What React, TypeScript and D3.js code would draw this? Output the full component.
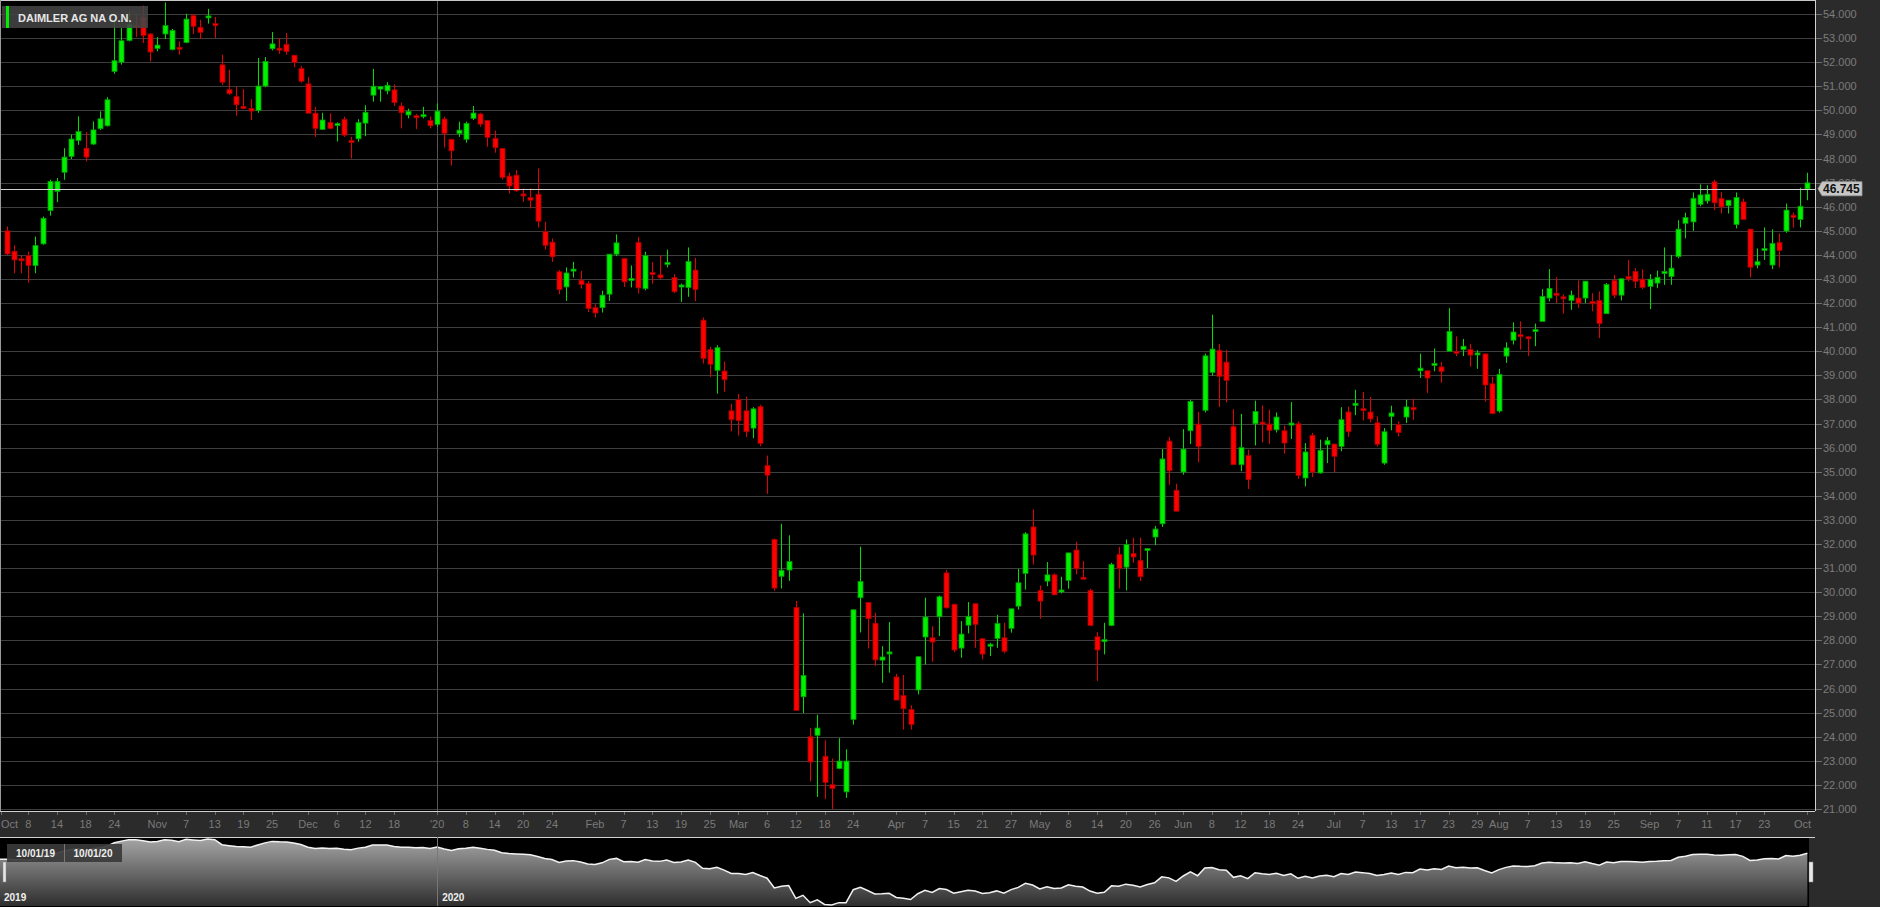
import React from 'react';
import * as d3 from 'd3';

const TITLE = 'DAIMLER AG NA O.N.';
const LAST_PRICE = 46.745;
const RANGE_FROM = '10/01/19';
const RANGE_TO = '10/01/20';

const HOLIDAYS = ['2019-12-24', '2019-12-25', '2019-12-26', '2019-12-31', '2020-01-01', '2020-04-10', '2020-04-13', '2020-05-01', '2020-06-01'];

const OPEN = [
  45.0, 44.15, 43.84, 43.97, 43.56, 44.46, 45.84, 46.63, 47.43, 48.09,
  48.75, 48.43, 48.6, 49.24, 49.36, 51.62, 52.0, 52.9, 53.53, 53.86,
  53.17, 52.57, 53.17, 52.52, 52.62, 52.82, 53.93, 53.45, 53.85, 53.6,
  51.89, 50.86, 50.57, 50.16, 50.08, 49.99, 51.01, 52.56, 52.58, 52.74,
  52.29, 51.74, 51.1, 49.88, 49.21, 49.5, 49.41, 49.63, 48.75, 48.82,
  49.47, 50.63, 50.88, 50.81, 50.85, 50.18, 49.81, 49.78, 49.79, 49.58,
  49.42, 49.64, 48.8, 49.04, 48.8, 49.67, 49.85, 49.58, 48.84, 48.42,
  47.27, 47.31, 46.53, 46.38, 46.52, 44.97, 44.53, 43.3, 42.67, 43.37,
  42.95, 42.81, 41.81, 41.81, 42.37, 44.03, 43.85, 42.97, 44.52, 42.6,
  43.27, 43.17, 43.65, 43.06, 42.7, 42.65, 43.37, 41.29, 40.07, 39.21,
  39.18, 37.53, 37.99, 37.53, 36.81, 37.7, 35.26, 32.19, 30.66, 30.92,
  29.37, 25.66, 24.0, 24.06, 23.19, 22.01, 22.68, 21.71, 24.72, 29.77,
  29.57, 28.71, 27.18, 27.48, 26.48, 25.71, 25.13, 25.94, 28.14, 28.11,
  28.98, 30.8, 29.5, 27.68, 28.63, 29.52, 28.07, 27.79, 28.08, 28.11,
  28.5, 29.42, 30.78, 32.71, 30.07, 30.46, 30.72, 30.06, 30.49, 31.75,
  30.62, 30.07, 28.15, 28.0, 28.62, 31.57, 31.04, 31.61, 31.32, 31.78,
  32.29, 32.84, 36.27, 34.23, 34.99, 36.7, 36.98, 37.55, 39.12, 40.04,
  39.55, 36.88, 35.29, 35.67, 36.99, 37.06, 36.98, 36.74, 36.7, 36.98,
  36.99, 34.74, 36.51, 34.95, 36.12, 36.15, 36.05, 37.48, 37.8, 37.62,
  37.48, 37.03, 35.36, 37.3, 36.95, 37.27, 37.67, 39.19, 39.19, 39.46,
  39.35, 40.0, 40.0, 40.07, 40.07, 39.92, 39.89, 38.65, 37.52, 39.8,
  40.46, 40.69, 40.6, 40.88, 41.24, 42.21, 42.41, 42.26, 42.11, 42.21,
  42.21, 42.07, 42.11, 41.56, 42.94, 42.33, 43.1, 43.31, 42.99, 42.69,
  42.83, 43.29, 43.1, 43.93, 45.31, 45.37, 46.1, 46.24, 47.03, 46.34,
  46.04, 45.26, 46.2, 45.07, 43.58, 44.25, 43.58, 44.51, 44.99, 45.65,
  45.47, 46.74,
];

const HIGH = [
  45.18, 44.4, 43.96, 44.14, 44.76, 45.59, 47.12, 47.19, 48.43, 48.99,
  49.75, 49.1, 49.54, 49.96, 50.55, 53.7, 53.42, 54.1, 53.97, 54.35,
  53.21, 53.04, 54.48, 53.38, 52.86, 54.01, 54.01, 53.76, 54.21, 53.88,
  52.31, 51.69, 50.97, 50.88, 50.46, 52.17, 52.21, 53.25, 53.0, 53.21,
  52.29, 51.85, 51.38, 50.15, 49.9, 49.88, 49.5, 49.74, 48.9, 49.63,
  50.21, 51.72, 51.0, 51.17, 51.08, 50.32, 50.07, 49.85, 50.15, 49.74,
  50.29, 49.74, 48.8, 49.53, 49.53, 50.18, 49.9, 49.58, 49.16, 48.42,
  47.41, 47.52, 46.76, 46.76, 47.59, 45.37, 44.68, 43.37, 43.48, 43.71,
  43.34, 42.91, 41.95, 42.51, 44.03, 44.85, 43.85, 43.56, 44.75, 44.13,
  43.7, 43.97, 44.22, 43.2, 42.81, 44.31, 43.88, 41.4, 40.18, 40.25,
  39.57, 37.82, 38.23, 38.12, 37.68, 37.78, 35.67, 32.23, 32.84, 32.36,
  29.64, 29.12, 24.36, 24.91, 23.85, 23.09, 23.94, 23.48, 29.27, 31.89,
  29.57, 29.15, 27.76, 28.76, 26.61, 26.56, 25.3, 27.32, 29.77, 28.59,
  29.86, 30.92, 29.5, 28.8, 29.59, 29.52, 28.07, 27.9, 29.06, 28.73,
  29.31, 30.97, 32.49, 33.43, 30.28, 31.25, 30.78, 30.64, 31.63, 32.09,
  31.29, 30.14, 28.34, 28.73, 31.22, 31.88, 32.19, 32.26, 32.26, 31.81,
  32.75, 35.94, 36.44, 34.5, 36.77, 37.99, 37.48, 39.9, 41.52, 40.3,
  40.06, 37.6, 37.4, 35.91, 37.95, 37.75, 37.57, 37.46, 36.91, 37.89,
  37.09, 36.19, 36.61, 36.33, 36.44, 36.15, 37.68, 37.71, 38.4, 38.31,
  38.1, 37.3, 36.81, 37.74, 37.09, 37.99, 38.03, 39.9, 39.19, 40.12,
  39.55, 41.79, 40.62, 40.51, 40.31, 40.04, 39.89, 38.94, 39.27, 40.37,
  41.2, 41.24, 40.62, 41.15, 42.58, 43.41, 43.07, 42.37, 42.52, 42.94,
  42.91, 42.41, 42.48, 42.83, 43.17, 43.01, 43.79, 43.45, 43.4, 43.2,
  43.35, 44.31, 44.0, 45.44, 45.75, 46.59, 46.93, 46.89, 47.12, 46.61,
  46.27, 46.59, 46.34, 45.07, 44.27, 45.14, 45.06, 44.89, 46.13, 45.76,
  46.79, 47.41,
];

const LOW = [
  44.0, 43.24, 43.24, 42.85, 43.24, 44.42, 45.63, 46.19, 47.12, 47.98,
  48.57, 47.88, 48.57, 49.19, 49.33, 51.52, 51.9, 52.86, 53.04, 52.8,
  52.03, 52.45, 52.96, 52.49, 52.31, 52.79, 53.17, 52.96, 53.6, 53.0,
  51.06, 50.65, 49.78, 50.05, 49.6, 49.9, 50.96, 52.49, 52.35, 52.31,
  51.79, 51.15, 49.88, 48.9, 49.18, 49.21, 48.71, 48.9, 48.0, 48.7,
  48.93, 50.36, 50.36, 50.67, 50.18, 49.25, 49.67, 49.22, 49.67, 49.25,
  49.32, 48.46, 47.71, 48.9, 48.66, 49.6, 49.32, 48.49, 48.24, 47.13,
  46.55, 46.62, 46.2, 45.93, 45.14, 44.22, 43.71, 42.37, 42.09, 43.06,
  42.6, 41.63, 41.4, 41.61, 42.09, 43.95, 42.67, 42.65, 42.4, 42.53,
  42.81, 42.99, 43.48, 42.42, 42.05, 42.26, 42.08, 39.49, 38.93, 38.24,
  38.32, 36.68, 36.5, 36.44, 36.39, 36.06, 34.08, 30.06, 30.15, 30.47,
  25.09, 24.98, 22.15, 21.5, 21.41, 21.0, 22.65, 21.46, 24.5, 28.33,
  27.66, 26.94, 26.24, 26.66, 25.52, 24.3, 24.3, 25.76, 27.0, 27.11,
  28.18, 29.32, 27.51, 27.28, 28.29, 27.69, 27.21, 27.35, 27.69, 27.46,
  28.32, 29.28, 30.11, 31.15, 28.9, 30.25, 29.89, 29.95, 30.14, 30.74,
  30.56, 28.59, 26.31, 27.42, 28.59, 30.15, 30.07, 31.22, 30.46, 31.0,
  31.95, 32.71, 34.46, 33.36, 34.88, 36.15, 35.39, 37.46, 38.98, 37.68,
  37.88, 35.29, 35.02, 34.28, 36.09, 36.22, 36.16, 36.63, 35.75, 36.36,
  34.7, 34.39, 34.78, 34.92, 35.36, 34.99, 35.85, 36.44, 37.35, 37.13,
  37.06, 36.05, 35.29, 36.72, 36.47, 37.02, 37.16, 38.89, 38.27, 39.17,
  38.69, 40.0, 39.8, 39.8, 39.36, 39.27, 37.91, 37.41, 37.45, 39.52,
  40.28, 40.07, 39.8, 40.21, 41.24, 42.07, 42.0, 41.56, 41.72, 41.79,
  42.0, 41.66, 40.55, 41.56, 42.21, 42.11, 42.9, 42.62, 42.58, 41.75,
  42.62, 42.76, 42.76, 43.86, 44.69, 45.0, 46.02, 46.13, 45.86, 45.72,
  45.72, 45.1, 45.47, 43.07, 43.45, 43.79, 43.41, 43.48, 44.92, 45.13,
  45.14, 46.27,
];

const CLOSE = [
  44.04, 43.79, 43.79, 43.56, 44.39, 45.52, 47.05, 47.05, 48.06, 48.81,
  49.12, 48.06, 49.19, 49.65, 50.44, 52.06, 52.89, 53.56, 53.5, 53.11,
  52.42, 52.71, 53.52, 53.32, 52.58, 53.79, 53.49, 53.24, 53.92, 53.56,
  51.17, 50.69, 50.23, 50.13, 49.97, 51.01, 52.03, 52.76, 52.54, 52.44,
  51.99, 51.21, 49.88, 49.25, 49.6, 49.25, 49.45, 48.97, 48.72, 49.49,
  49.92, 51.0, 50.99, 51.04, 50.32, 49.9, 49.96, 49.69, 49.82, 49.36,
  49.97, 49.05, 48.32, 49.18, 49.46, 49.89, 49.43, 48.88, 48.45, 47.22,
  46.86, 46.66, 46.49, 46.27, 45.4, 44.4, 43.92, 42.56, 43.25, 43.41,
  42.77, 41.77, 41.59, 42.33, 44.03, 44.5, 42.88, 43.02, 42.63, 43.97,
  43.23, 43.05, 43.69, 42.47, 42.75, 43.73, 42.56, 39.7, 39.46, 40.15,
  38.82, 37.16, 37.12, 36.66, 37.61, 36.18, 34.86, 30.17, 30.91, 31.27,
  25.09, 26.54, 22.95, 24.36, 22.1, 21.85, 22.99, 22.99, 29.27, 30.44,
  28.9, 27.19, 27.31, 27.52, 25.52, 25.16, 24.51, 27.32, 28.97, 27.93,
  29.81, 29.35, 27.6, 28.26, 29.0, 28.66, 27.43, 27.84, 28.7, 27.55,
  29.31, 30.39, 32.42, 31.54, 29.63, 30.72, 29.89, 30.09, 31.63, 30.97,
  30.58, 28.62, 27.6, 28.03, 31.15, 30.98, 31.98, 31.46, 30.64, 31.81,
  32.62, 35.53, 35.04, 33.36, 35.94, 37.92, 36.05, 39.81, 40.09, 38.96,
  38.79, 35.29, 36.0, 34.67, 37.5, 36.99, 36.72, 37.27, 36.19, 37.02,
  34.84, 35.82, 34.99, 35.89, 36.29, 35.64, 37.16, 36.66, 37.84, 37.58,
  37.19, 36.14, 36.66, 37.44, 36.63, 37.69, 37.57, 39.3, 38.89, 39.49,
  39.16, 40.82, 39.95, 40.21, 39.84, 39.93, 38.6, 37.41, 39.04, 40.14,
  40.8, 40.62, 40.53, 40.9, 42.28, 42.61, 42.32, 42.24, 42.33, 42.0,
  42.91, 41.97, 41.15, 42.77, 42.33, 43.01, 43.0, 42.9, 42.65, 42.99,
  43.07, 43.31, 43.45, 45.07, 45.55, 46.35, 46.49, 46.52, 46.16, 45.99,
  46.27, 46.38, 45.47, 43.49, 43.72, 44.27, 44.48, 44.18, 45.86, 45.55,
  46.02, 46.99,
];

const Y_TICKS = d3.range(21, 55);

const X_TICKS: [string, string][] = [
  ['2019-10-01', 'Oct'], ['2019-10-08', '8'], ['2019-10-14', '14'], ['2019-10-18', '18'], ['2019-10-24', '24'],
  ['2019-11-01', 'Nov'], ['2019-11-07', '7'], ['2019-11-13', '13'], ['2019-11-19', '19'], ['2019-11-25', '25'],
  ['2019-12-02', 'Dec'], ['2019-12-06', '6'], ['2019-12-12', '12'], ['2019-12-18', '18'],
  ['2020-01-02', "'20"], ['2020-01-08', '8'], ['2020-01-14', '14'], ['2020-01-20', '20'], ['2020-01-24', '24'],
  ['2020-02-03', 'Feb'], ['2020-02-07', '7'], ['2020-02-13', '13'], ['2020-02-19', '19'], ['2020-02-25', '25'],
  ['2020-03-02', 'Mar'], ['2020-03-06', '6'], ['2020-03-12', '12'], ['2020-03-18', '18'], ['2020-03-24', '24'],
  ['2020-04-01', 'Apr'], ['2020-04-07', '7'], ['2020-04-15', '15'], ['2020-04-21', '21'], ['2020-04-27', '27'],
  ['2020-05-04', 'May'], ['2020-05-08', '8'], ['2020-05-14', '14'], ['2020-05-20', '20'], ['2020-05-26', '26'],
  ['2020-06-02', 'Jun'], ['2020-06-08', '8'], ['2020-06-12', '12'], ['2020-06-18', '18'], ['2020-06-24', '24'],
  ['2020-07-01', 'Jul'], ['2020-07-07', '7'], ['2020-07-13', '13'], ['2020-07-17', '17'], ['2020-07-23', '23'], ['2020-07-29', '29'],
  ['2020-08-03', 'Aug'], ['2020-08-07', '7'], ['2020-08-13', '13'], ['2020-08-19', '19'], ['2020-08-25', '25'],
  ['2020-09-01', 'Sep'], ['2020-09-07', '7'], ['2020-09-11', '11'], ['2020-09-17', '17'], ['2020-09-23', '23'],
  ['2020-10-01', 'Oct'],
];

function tradingDays(): string[] {
  const out: string[] = [];
  const d = new Date(Date.UTC(2019, 9, 3));
  const end = Date.UTC(2020, 9, 1);
  while (d.getTime() <= end) {
    const wd = d.getUTCDay();
    const s = d.toISOString().slice(0, 10);
    if (wd !== 0 && wd !== 6 && !HOLIDAYS.includes(s)) out.push(s);
    d.setUTCDate(d.getUTCDate() + 1);
  }
  return out;
}

const DATES = tradingDays();

const W = 1880;
const H = 907;
const PLOT_R = 1815;
const PLOT_B = 811;
const AXIS_B = 837;
const NAV_B = 906;
const NAV_R = 1809;
const FONT = '"Liberation Sans", Arial, sans-serif';

export default function App() {
  const n = Math.min(DATES.length, CLOSE.length);
  const dates = DATES.slice(0, n);
  const x = d3.scaleBand<string>().domain(dates).range([3.11, 3.11 + 7.174 * n]).padding(0);
  const cx = (d: string) => (x(d) as number) + x.bandwidth() / 2;
  const y = d3.scaleLinear().domain([21, 54]).range([809, 14]);

  const closes = CLOSE.slice(0, n);
  const ext = d3.extent(closes) as [number, number];
  const ny = d3.scaleLinear().domain(ext).range([905, 839]);
  const navPts = dates.map((d, i) => [cx(d), closes[i]] as [number, number]);
  if (navPts.length) navPts.unshift([0, navPts[0][1]]);
  const area = d3.area<[number, number]>().x((p) => p[0]).y0(NAV_B).y1((p) => ny(p[1]));
  const line = d3.line<[number, number]>().x((p) => p[0]).y((p) => ny(p[1]));

  const yearX = cx('2020-01-02');
  const bodyW = 5;

  return (
    <>
      <style>{'html,body{margin:0;padding:0;background:#000;overflow:hidden}'}</style>
      <svg width={W} height={H} style={{ display: 'block', fontFamily: FONT }}>
        <defs>
          <linearGradient id="navGrad" gradientUnits="userSpaceOnUse" x1="0" y1={AXIS_B} x2="0" y2={NAV_B}>
            <stop offset="0" stopColor="#a8a8a8" />
            <stop offset="1" stopColor="#2e2e2e" />
          </linearGradient>
          <clipPath id="plotClip">
            <rect x={0} y={0} width={PLOT_R} height={PLOT_B} />
          </clipPath>
        </defs>
        <rect x={0} y={0} width={W} height={H} fill="#2b2b2b" />
        <rect x={0} y={0} width={PLOT_R} height={PLOT_B} fill="#000" />
        <rect x={0} y={AXIS_B} width={NAV_R} height={NAV_B - AXIS_B + 1} fill="#000" />

        {Y_TICKS.map((t) => (
          <line key={'g' + t} x1={0} x2={PLOT_R} y1={Math.round(y(t)) + 0.5} y2={Math.round(y(t)) + 0.5} stroke="#3e3e3e" strokeWidth={1} />
        ))}
        <line x1={Math.round(yearX) + 0.5} x2={Math.round(yearX) + 0.5} y1={0} y2={PLOT_B} stroke="#555" strokeWidth={1} />

        <g clipPath="url(#plotClip)">
          {dates.map((d, i) => {
            const o = OPEN[i], c = CLOSE[i], hi = HIGH[i], lo = LOW[i];
            const up = c >= o;
            const xc = Math.round(cx(d));
            const top = y(Math.max(o, c));
            const bot = y(Math.min(o, c));
            const bh = Math.max(2, bot - top);
            return (
              <g key={d}>
                <line x1={xc + 0.5} x2={xc + 0.5} y1={y(hi)} y2={y(lo)} stroke={up ? '#00e000' : '#e80000'} strokeWidth={1} />
                <rect x={xc - 2} y={top} width={bodyW} height={bh} fill={up ? '#00f000' : '#ff0000'} stroke={up ? '#009a00' : '#a00000'} strokeWidth={0.8} />
              </g>
            );
          })}
        </g>

        <line x1={0} x2={PLOT_R} y1={Math.round(y(LAST_PRICE)) + 0.5} y2={Math.round(y(LAST_PRICE)) + 0.5} stroke="#cfcfcf" strokeWidth={1} />

        <rect x={2} y={6} width={146} height={22} fill="rgba(68,68,68,0.88)" />
        <rect x={6} y={6} width={3} height={22} fill="#00ee00" />
        <text x={18} y={21.5} fill="#e6e6e6" fontSize={11} fontWeight="bold">{TITLE}</text>

        <line x1={0} x2={PLOT_R} y1={0.5} y2={0.5} stroke="#c8c8c8" />
        <line x1={0.5} x2={0.5} y1={0} y2={PLOT_B} stroke="#9a9a9a" />
        <line x1={PLOT_R + 0.5} x2={PLOT_R + 0.5} y1={0} y2={PLOT_B} stroke="#d0d0d0" />

        {Y_TICKS.map((t) => (
          <g key={'yt' + t}>
            <line x1={PLOT_R + 1} x2={PLOT_R + 7} y1={Math.round(y(t)) + 0.5} y2={Math.round(y(t)) + 0.5} stroke="#6e6e6e" />
            <text x={1823} y={y(t) + 4} fill="#7c7c7c" fontSize={11}>{t.toFixed(3)}</text>
          </g>
        ))}

        <g>
          <path d={`M${PLOT_R + 3},${y(LAST_PRICE)} L${PLOT_R + 7},${y(LAST_PRICE) - 7} L1862,${y(LAST_PRICE) - 7} L1862,${y(LAST_PRICE) + 7} L${PLOT_R + 7},${y(LAST_PRICE) + 7} Z`} fill="#c6c6c6" stroke="#9a9a9a" strokeWidth={0.8} />
          <text x={1823} y={y(LAST_PRICE) + 4.5} fill="#111" fontSize={12} fontWeight="bold">{LAST_PRICE.toFixed(3)}</text>
        </g>

        <line x1={0} x2={PLOT_R} y1={PLOT_B + 0.5} y2={PLOT_B + 0.5} stroke="#d0d0d0" />
        <line x1={0} x2={PLOT_R} y1={AXIS_B + 0.5} y2={AXIS_B + 0.5} stroke="#d0d0d0" />
        {X_TICKS.map(([d, lab], i) => {
          const inDomain = x(d) !== undefined;
          let xp: number;
          let anchor: 'start' | 'middle' | 'end' = 'middle';
          if (!inDomain || i === 0) {
            xp = 1;
            anchor = 'start';
          } else if (i === X_TICKS.length - 1) {
            xp = 1811;
            anchor = 'end';
          } else {
            xp = cx(d);
          }
          const tx = inDomain ? Math.round(cx(d)) + 0.5 : 1.5;
          return (
            <g key={'xt' + i}>
              <line x1={tx} x2={tx} y1={PLOT_B + 1} y2={PLOT_B + 4} stroke="#6a6a6a" />
              <text x={xp} y={828} fill="#7a7a7a" fontSize={11} textAnchor={anchor}>{lab}</text>
            </g>
          );
        })}

        <path d={area(navPts) || ''} fill="url(#navGrad)" />
        <path d={line(navPts) || ''} fill="none" stroke="#f2f2f2" strokeWidth={1.5} />
        <line x1={Math.round(yearX) + 0.5} x2={Math.round(yearX) + 0.5} y1={AXIS_B} y2={NAV_B} stroke="#777" strokeWidth={1} />
        <rect x={7} y={844} width={57} height={18} fill="rgba(58,58,58,0.92)" />
        <rect x={64} y={844} width={58} height={18} fill="rgba(58,58,58,0.92)" />
        <line x1={64.5} x2={64.5} y1={844} y2={862} stroke="#777" />
        <text x={35.5} y={857} fill="#f0f0f0" fontSize={10} fontWeight="bold" textAnchor="middle">{RANGE_FROM}</text>
        <text x={93} y={857} fill="#f0f0f0" fontSize={10} fontWeight="bold" textAnchor="middle">{RANGE_TO}</text>
        <rect x={3} y={862} width={3} height={20} fill="#e8e8e8" stroke="#888" strokeWidth={0.5} />
        <rect x={NAV_R} y={862} width={4} height={20} fill="#e8e8e8" stroke="#888" strokeWidth={0.5} />
        <text x={4} y={901} fill="#f0f0f0" fontSize={10} fontWeight="bold">2019</text>
        <text x={yearX + 5} y={901} fill="#f0f0f0" fontSize={10} fontWeight="bold">2020</text>
      </svg>
    </>
  );
}
